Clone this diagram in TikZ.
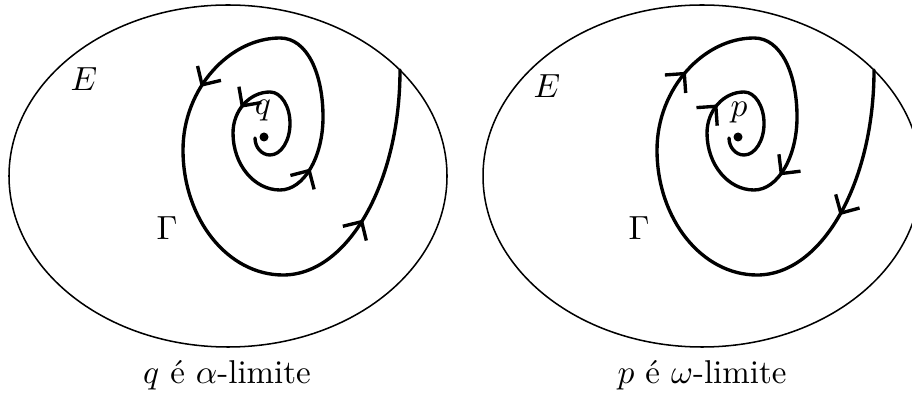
\documentclass[tikz,border=0pt]{standalone}
\usepackage{amsmath}
\usetikzlibrary{arrows.meta,decorations.markings}

\tikzset{
  region/.style={line width=0.5pt},
  orbit/.style={line width=1.1pt, line cap=round},
  barb/.tip={Straight Barb[length=4.5pt, angle'=90]},
  leaves/.style={postaction={decorate}, decoration={markings,
      mark=at position 0.136 with {\arrow{barb}},
      mark=at position 0.278 with {\arrow{barb}},
      mark=at position 0.518 with {\arrow{barb}},
      mark=at position 0.85 with {\arrow{barb}}}},
  arrives/.style={postaction={decorate}, decoration={markings,
      mark=at position 0.132 with {\arrowreversed{barb}},
      mark=at position 0.27 with {\arrowreversed{barb}},
      mark=at position 0.50 with {\arrowreversed{barb}},
      mark=at position 0.855 with {\arrowreversed{barb}}}}
}

% the same spiral in both pictures, quarter by quarter
\newcommand{\espiral}[1]{%
  \draw[#1] (255,138)
    .. controls +(0,9.4) and +(-8.3,0) .. (270,155)
    .. controls +(11,0) and +(0,17.4) .. (290,123.5)
    .. controls +(0,-17.4) and +(11,0) .. (270,92)
    .. controls +(-20.4,0) and +(0,-22.6) .. (233,133)
    .. controls +(0,31.5) and +(-26,0) .. (280,190)
    .. controls +(23.7,0) and +(0,40.3) .. (323,117)
    .. controls +(0,-43.6) and +(27,0) .. (280,38)
    .. controls +(-50,0) and +(0,-61.9) .. (183,150)
    .. controls +(0,69) and +(-55.2,0) .. (283,275)
    .. controls +(64.6,0) and +(0,113.2) .. (400,70);}

\begin{document}
\begin{tikzpicture}[x=0.0115cm, y=-0.0115cm, font=\fontsize{10.8}{13}\selectfont]
  \useasboundingbox (0,0) rectangle (912,394);

  % q is alpha-limit
  \draw[region] (228,176) ellipse [x radius=219, y radius=171];
  \espiral{orbit, leaves}
  \fill (264,137) circle [radius=4.5];
  \node (qlabel) at (263,111) {$q$};
  \node (eleft) at (84,79) {$E$};
  \node (gleft) at (167,228) {$\Gamma$};
  \node (capleft) at (227,375) {$q$ é $\alpha$-limite};

  % p is omega-limit
  \begin{scope}[xshift=474*0.0115cm]
    \draw[region] (228,176) ellipse [x radius=219, y radius=171];
    \espiral{orbit, arrives}
    \fill (264,137) circle [radius=4.5];
  \end{scope}
  \node (plabel) at (739,113) {$p$};
  \node (eright) at (547,86) {$E$};
  \node (gright) at (639,228) {$\Gamma$};
  \node (capright) at (702,375) {$p$ é $\omega$-limite};
\end{tikzpicture}
\end{document}
